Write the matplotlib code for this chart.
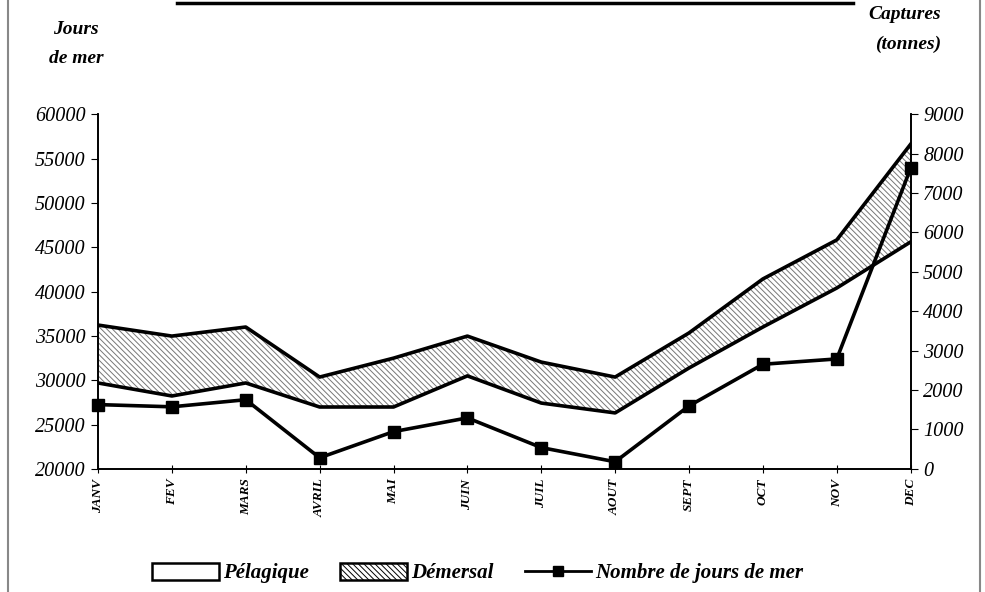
import matplotlib.pyplot as plt
import numpy as np
from matplotlib.lines import Line2D
from matplotlib.patches import Patch

plt.rcParams['font.family'] = ['Liberation Serif', 'DejaVu Serif']
plt.rcParams['hatch.linewidth'] = 0.7

mois = ["JANV", "FEV", "MARS", "AVRIL", "MAI", "JUIN", "JUIL", "AOUT", "SEPT", "OCT", "NOV", "DEC"]
pelagique = [2180, 1850, 2180, 1570, 1570, 2360, 1670, 1420, 2560, 3600, 4590, 5760]
demersal = [1470, 1520, 1420, 760, 1240, 1010, 1040, 910, 890, 1220, 1220, 2480]
jours_mer = [27250, 27000, 27800, 21250, 24200, 25750, 22400, 20800, 27100, 31800, 32400, 53900]

x = np.arange(len(mois))
total = np.array(pelagique) + np.array(demersal)

fig = plt.figure(figsize=(9.85, 5.92), dpi=100)
ax = fig.add_axes([0.0995, 0.208, 0.825, 0.599])
ax2 = ax.twinx()

# aires empilees (captures, axe de droite)
ax2.fill_between(x, 0, pelagique, facecolor="white", edgecolor="none", zorder=1)
ax2.fill_between(x, pelagique, total, facecolor="white", edgecolor="#777777",
                 hatch="\\\\\\\\\\\\", linewidth=0, zorder=1)
ax2.plot(x, pelagique, color="black", lw=2.6, zorder=2)
ax2.plot(x, total, color="black", lw=2.6, zorder=2)
ax2.set_ylim(0, 9000)
ax2.set_yticks(range(0, 9001, 1000))

# jours de mer (axe de gauche)
ax.set_zorder(ax2.get_zorder() + 1)
ax.patch.set_visible(False)
ax.plot(x, jours_mer, color="black", lw=2.6, marker="s", markersize=8, zorder=3, clip_on=False)
ax.set_ylim(20000, 60000)
ax.set_yticks(range(20000, 60001, 5000))
ax.set_xlim(0, len(mois) - 1)
ax.set_xticks(x)
ax.set_xticklabels(mois, rotation=90, fontsize=9.5, style="italic", fontweight="bold")

for a in (ax, ax2):
    a.spines["top"].set_visible(False)
    for s in a.spines.values():
        s.set_linewidth(1.2)
ax.tick_params(axis="y", labelsize=14.5, direction="out", length=5, pad=4)
ax2.tick_params(axis="y", labelsize=14.5, direction="out", length=5, pad=4)
ax.tick_params(axis="x", direction="inout", length=6, pad=4)
for lab in ax.get_yticklabels() + ax2.get_yticklabels():
    lab.set_style("italic")

fig.text(0.077, 0.965, "Jours", fontsize=14, fontweight="bold", style="italic", ha="center", va="top")
fig.text(0.077, 0.915, "de mer", fontsize=14, fontweight="bold", style="italic", ha="center", va="top")
fig.text(0.955, 0.99, "Captures", fontsize=14, fontweight="bold", style="italic", ha="right", va="top")
fig.text(0.955, 0.94, "(tonnes)", fontsize=14, fontweight="bold", style="italic", ha="right", va="top")

# trait du titre et cadre
fig.add_artist(Line2D([0.18, 0.866], [0.995, 0.995], color="black", lw=2.5))
fig.add_artist(Line2D([0.008, 0.008], [0, 1], color="#888888", lw=1.5))
fig.add_artist(Line2D([0.995, 0.995], [0, 1], color="#888888", lw=1.5))

handles = [
    Patch(facecolor="white", edgecolor="black", lw=1.8, label="Pélagique"),
    Patch(facecolor="white", edgecolor="black", lw=1.8, hatch="\\\\\\\\\\\\", label="Démersal"),
    Line2D([], [], color="black", lw=2, marker="s", markersize=7, label="Nombre de jours de mer"),
]
fig.legend(handles=handles, loc="center", bbox_to_anchor=(0.485, 0.032), ncol=3, frameon=False,
           prop={"size": 15, "style": "italic", "weight": "bold"}, handlelength=3.2,
           handleheight=0.9, handletextpad=0.2, columnspacing=1.5)

fig.savefig("out.png", dpi=100)
